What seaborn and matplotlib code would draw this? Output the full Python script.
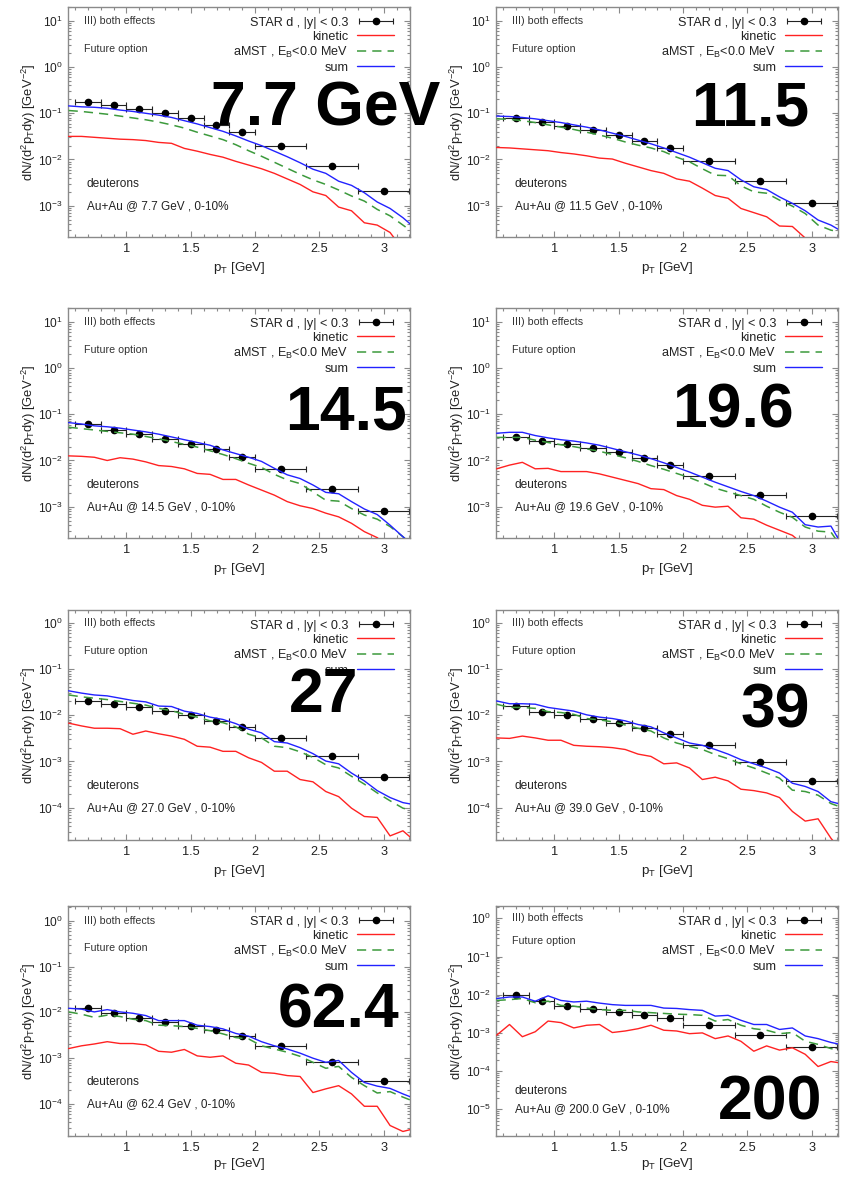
import numpy as np
import pandas as pd
import matplotlib
matplotlib.use("Agg")
import matplotlib.pyplot as plt
import seaborn as sns
from matplotlib.ticker import LogLocator, NullFormatter, MultipleLocator
from matplotlib.container import ErrorbarContainer
from matplotlib.legend_handler import HandlerErrorbar

sns.set_style("ticks")
plt.rcParams["font.family"] = ["Liberation Sans", "DejaVu Sans"]
plt.rcParams["mathtext.fontset"] = "custom"
plt.rcParams["mathtext.rm"] = "Liberation Sans"
plt.rcParams["mathtext.it"] = "Liberation Sans:italic"
plt.rcParams["mathtext.bf"] = "Liberation Sans:bold"

# ---------------- data ----------------
pt_model = [0.55, 0.65, 0.75, 0.85, 0.95, 1.05, 1.15, 1.25, 1.35, 1.45,
            1.55, 1.65, 1.75, 1.85, 1.95, 2.05, 2.15, 2.25, 2.35, 2.45,
            2.55, 2.65, 2.75, 2.85, 2.95, 3.05, 3.15, 3.25]
pt_star = [0.7, 0.9, 1.1, 1.3, 1.5, 1.7, 1.9, 2.2, 2.6, 3.0]
pt_star_lo = [0.6, 0.8, 1.0, 1.2, 1.4, 1.6, 1.8, 2.0, 2.4, 2.8]
pt_star_hi = [0.8, 1.0, 1.2, 1.4, 1.6, 1.8, 2.0, 2.4, 2.8, 3.2]

energies = ["7.7", "11.5", "14.5", "19.6", "27.0", "39.0", "62.4", "200.0"]
big_labels = ["7.7 GeV", "11.5", "14.5", "19.6", "27", "39", "62.4", "200"]

# STAR deuteron yields (linear)
star_7p7 = [0.178, 0.150, 0.124, 0.100, 0.078, 0.056, 0.039, 0.020, 0.0072, 0.0021]
star_11p5 = [0.078, 0.064, 0.054, 0.044, 0.034, 0.025, 0.018, 0.0093, 0.0035, 0.00115]
star_14p5 = [0.061, 0.046, 0.037, 0.029, 0.023, 0.0175, 0.0117, 0.0065, 0.0024, 0.00081]
star_19p6 = [0.032, 0.027, 0.023, 0.0187, 0.015, 0.0112, 0.0081, 0.0046, 0.0018, 0.00062]
star_27 = [0.0205, 0.0178, 0.0152, 0.0124, 0.0100, 0.0076, 0.0056, 0.0032, 0.0013, 0.00046]
star_39 = [0.0155, 0.0118, 0.0100, 0.0085, 0.0069, 0.0054, 0.0039, 0.00233, 0.00097, 0.00037]
star_62p4 = [0.0124, 0.0097, 0.0074, 0.0061, 0.0051, 0.0042, 0.0030, 0.00187, 0.00081, 0.00032]
star_200 = [0.0096, 0.0067, 0.0050, 0.0041, 0.0035, 0.0030, 0.00246, 0.00165, 0.00087, 0.00042]

# model curves as log10 values
sum_log_7p7 = [-0.84, -0.86, -0.87, -0.89, -0.93, -0.96, -1.00, -1.04, -1.09, -1.16, -1.23, -1.31, -1.39, -1.49,
               -1.60, -1.70, -1.82, -1.94, -2.07, -2.21, -2.30, -2.47, -2.56, -2.72, -2.92, -3.06, -3.26, -3.50]
amst_log_7p7 = [-0.94, -0.96, -0.99, -1.02, -1.06, -1.10, -1.14, -1.19, -1.25, -1.32, -1.41, -1.49, -1.57, -1.68,
                -1.81, -1.93, -2.06, -2.19, -2.32, -2.44, -2.54, -2.66, -2.79, -2.90, -3.08, -3.22, -3.42, -3.62]
kin_log_7p7 = [-1.50, -1.50, -1.52, -1.54, -1.56, -1.57, -1.59, -1.63, -1.65, -1.76, -1.82, -1.89, -1.95, -2.04,
               -2.12, -2.20, -2.30, -2.42, -2.54, -2.70, -2.78, -3.03, -3.11, -3.37, -3.42, -3.58, -3.95, -4.20]

sum_log_11p5 = [-1.06, -1.07, -1.09, -1.12, -1.16, -1.20, -1.25, -1.30, -1.36, -1.43, -1.50, -1.58, -1.66, -1.75,
                -1.85, -1.95, -2.07, -2.19, -2.24, -2.44, -2.59, -2.65, -2.81, -2.95, -3.11, -3.31, -3.42, -3.58]
amst_log_11p5 = [-1.12, -1.13, -1.16, -1.20, -1.25, -1.30, -1.35, -1.41, -1.47, -1.54, -1.62, -1.69, -1.75, -1.83,
                 -1.95, -2.05, -2.20, -2.34, -2.35, -2.57, -2.70, -2.73, -2.88, -3.01, -3.17, -3.42, -3.53, -3.58]
kin_log_11p5 = [-1.74, -1.75, -1.77, -1.79, -1.81, -1.85, -1.88, -1.92, -1.97, -1.99, -2.08, -2.16, -2.24, -2.30,
                -2.42, -2.47, -2.62, -2.78, -2.84, -3.06, -3.15, -3.24, -3.44, -3.45, -3.70, -3.95, -4.20, -4.40]

sum_log_14p5 = [-1.18, -1.21, -1.25, -1.27, -1.30, -1.34, -1.38, -1.43, -1.49, -1.55, -1.61, -1.67, -1.77, -1.85,
                -1.93, -2.02, -2.17, -2.31, -2.39, -2.53, -2.69, -2.72, -2.89, -3.05, -3.17, -3.40, -3.65, -3.90]
amst_log_14p5 = [-1.28, -1.31, -1.34, -1.37, -1.40, -1.43, -1.48, -1.53, -1.59, -1.65, -1.71, -1.79, -1.87, -1.96,
                 -2.06, -2.15, -2.30, -2.42, -2.50, -2.68, -2.86, -2.88, -3.04, -3.18, -3.27, -3.43, -3.65, -3.90]
kin_log_14p5 = [-1.90, -1.91, -1.93, -2.00, -1.94, -1.97, -2.03, -2.11, -2.13, -2.18, -2.28, -2.30, -2.41, -2.41,
                -2.53, -2.64, -2.75, -2.89, -2.98, -3.04, -3.14, -3.22, -3.36, -3.54, -3.67, -3.90, -4.10, -4.30]

sum_log_19p6 = [-1.41, -1.39, -1.39, -1.46, -1.51, -1.55, -1.58, -1.62, -1.67, -1.74, -1.81, -1.88, -1.96, -2.05,
                -2.15, -2.25, -2.36, -2.47, -2.57, -2.67, -2.76, -2.88, -3.01, -3.12, -3.39, -3.44, -3.42, -3.90]
amst_log_19p6 = [-1.50, -1.50, -1.50, -1.56, -1.61, -1.66, -1.70, -1.75, -1.80, -1.87, -1.94, -2.02, -2.11, -2.19,
                 -2.28, -2.37, -2.48, -2.60, -2.68, -2.76, -2.84, -2.99, -3.12, -3.23, -3.44, -3.53, -3.55, -3.95]
kin_log_19p6 = [-2.18, -2.10, -2.04, -2.18, -2.17, -2.24, -2.24, -2.24, -2.29, -2.36, -2.43, -2.50, -2.61, -2.63,
                -2.76, -2.84, -2.97, -3.01, -2.99, -3.24, -3.27, -3.40, -3.51, -3.62, -3.85, -4.00, -4.20, -4.40]

sum_log_27 = [-1.47, -1.52, -1.56, -1.58, -1.63, -1.68, -1.71, -1.80, -1.81, -1.91, -1.96, -2.04, -2.09, -2.18,
              -2.30, -2.38, -2.57, -2.60, -2.70, -2.83, -2.99, -3.05, -3.25, -3.42, -3.63, -3.78, -3.89, -3.94]
amst_log_27 = [-1.56, -1.60, -1.63, -1.66, -1.70, -1.74, -1.78, -1.85, -1.90, -1.98, -2.04, -2.12, -2.16, -2.25,
               -2.41, -2.49, -2.67, -2.70, -2.79, -2.91, -3.07, -3.14, -3.32, -3.49, -3.68, -3.85, -4.01, -4.08]
kin_log_27 = [-2.17, -2.23, -2.28, -2.28, -2.29, -2.41, -2.34, -2.40, -2.45, -2.52, -2.67, -2.69, -2.78, -2.78,
              -2.92, -3.02, -3.21, -3.21, -3.39, -3.44, -3.65, -3.76, -4.01, -4.19, -4.21, -4.61, -4.50, -4.74]

sum_log_39 = [-1.69, -1.75, -1.75, -1.76, -1.83, -1.87, -1.91, -1.99, -2.04, -2.07, -2.12, -2.20, -2.25, -2.38,
              -2.49, -2.60, -2.65, -2.74, -2.84, -2.96, -3.05, -3.14, -3.25, -3.47, -3.54, -3.65, -3.87, -3.94]
amst_log_39 = [-1.76, -1.83, -1.83, -1.85, -1.92, -1.94, -1.98, -2.07, -2.10, -2.14, -2.21, -2.28, -2.34, -2.49,
               -2.60, -2.67, -2.74, -2.85, -2.94, -3.05, -3.14, -3.25, -3.36, -3.62, -3.65, -3.73, -3.91, -4.01]
kin_log_39 = [-2.49, -2.50, -2.45, -2.49, -2.54, -2.54, -2.65, -2.67, -2.68, -2.70, -2.74, -2.84, -2.89, -3.05,
              -3.03, -3.14, -3.39, -3.34, -3.42, -3.60, -3.63, -3.68, -3.78, -4.08, -4.29, -4.24, -4.66, -5.00]

sum_log_62p4 = [-1.91, -1.93, -1.99, -1.94, -1.99, -2.02, -2.07, -2.18, -2.18, -2.18, -2.28, -2.31, -2.36, -2.46,
                -2.52, -2.64, -2.73, -2.80, -2.89, -3.00, -3.09, -3.05, -3.31, -3.53, -3.61, -3.66, -3.78, -3.89]
amst_log_62p4 = [-1.99, -2.04, -2.11, -2.06, -2.09, -2.15, -2.18, -2.28, -2.29, -2.31, -2.35, -2.40, -2.47, -2.55,
                 -2.58, -2.73, -2.80, -2.87, -2.96, -3.09, -3.22, -3.18, -3.42, -3.60, -3.76, -3.73, -3.85, -3.96]
kin_log_62p4 = [-2.79, -2.73, -2.69, -2.64, -2.68, -2.68, -2.71, -2.85, -2.87, -2.81, -2.95, -2.98, -2.95, -3.11,
                -3.15, -3.31, -3.33, -3.38, -3.40, -3.75, -3.67, -3.60, -3.78, -4.05, -4.05, -4.47, -4.60, -4.53]

sum_log_200 = [-2.10, -2.06, -2.06, -2.17, -2.03, -2.15, -2.19, -2.17, -2.22, -2.26, -2.28, -2.28, -2.28, -2.35,
               -2.36, -2.39, -2.41, -2.56, -2.54, -2.67, -2.78, -2.78, -2.91, -2.87, -3.08, -3.15, -3.25, -3.32]
amst_log_200 = [-2.15, -2.13, -2.10, -2.21, -2.17, -2.28, -2.30, -2.35, -2.39, -2.41, -2.41, -2.45, -2.47, -2.49,
                -2.51, -2.52, -2.54, -2.69, -2.65, -2.80, -2.89, -2.93, -3.02, -2.99, -3.22, -3.30, -3.41, -3.49]
kin_log_200 = [-3.06, -2.78, -3.10, -2.97, -2.69, -2.73, -2.87, -2.80, -2.78, -2.99, -2.95, -2.89, -2.80, -2.93,
               -2.95, -3.02, -3.00, -3.15, -3.08, -3.22, -3.48, -3.34, -3.45, -3.39, -3.56, -3.88, -3.75, -3.80]

star_all = [star_7p7, star_11p5, star_14p5, star_19p6, star_27, star_39, star_62p4, star_200]
sum_all = [sum_log_7p7, sum_log_11p5, sum_log_14p5, sum_log_19p6, sum_log_27, sum_log_39, sum_log_62p4, sum_log_200]
amst_all = [amst_log_7p7, amst_log_11p5, amst_log_14p5, amst_log_19p6, amst_log_27, amst_log_39, amst_log_62p4, amst_log_200]
kin_all = [kin_log_7p7, kin_log_11p5, kin_log_14p5, kin_log_19p6, kin_log_27, kin_log_39, kin_log_62p4, kin_log_200]

ylims = [(2.1e-4, 20), (2.1e-4, 20), (2.1e-4, 20), (2.1e-4, 20),
         (2e-5, 1.9), (2e-5, 1.9), (2e-5, 2.1), (2e-6, 2.1)]
text_top = [10, 10, 10, 10, 1, 1, 1, 1]
text_bot = [1e-3, 1e-3, 1e-3, 1e-3, 1e-4, 1e-4, 1e-4, 1e-5]

# big overlay labels: (right edge px, baseline px)
big_pos = [(440, 125), (809, 125), (407, 430), (794, 428),
           (358, 712), (810, 727), (400, 1028), (822, 1120)]

# ---------------- figure ----------------
W, H = 844, 1178
fig = plt.figure(figsize=(W / 100, H / 100), dpi=100)
fig.patch.set_facecolor("white")

col_left = [68, 496]
row_top = [7, 308, 610, 906]
ax_w, ax_h = 342, 230

RED = "#ff2222"
GREEN = "#3c9a3c"
BLUE = "#2222ff"
GRAY = "#8a8a8a"

pt_lo_err = [p - lo for p, lo in zip(pt_star, pt_star_lo)]
pt_hi_err = [hi - p for p, hi in zip(pt_star, pt_star_hi)]

for i in range(8):
    r, c = divmod(i, 2)
    left = col_left[c] / W
    bottom = 1 - (row_top[r] + ax_h) / H
    ax = fig.add_axes([left, bottom, ax_w / W, ax_h / H])
    ax.set_yscale("log")

    df = pd.DataFrame({
        "pt": pt_model,
        "kin": np.power(10.0, kin_all[i]),
        "amst": np.power(10.0, amst_all[i]),
        "sum": np.power(10.0, sum_all[i]),
    })

    eb = ax.errorbar(pt_star, star_all[i], xerr=[pt_lo_err, pt_hi_err], fmt="o",
                     color="black", ecolor="#222222", ms=4.5, capsize=2.2,
                     elinewidth=0.8, capthick=0.8, zorder=2)
    sns.lineplot(data=df, x="pt", y="kin", ax=ax, color=RED, lw=1.0,
                 sort=False, legend=False, zorder=3)
    l_kin = ax.lines[-1]
    sns.lineplot(data=df, x="pt", y="amst", ax=ax, color=GREEN, lw=1.1,
                 linestyle=(0, (6, 4)), sort=False, legend=False, zorder=3)
    l_amst = ax.lines[-1]
    sns.lineplot(data=df, x="pt", y="sum", ax=ax, color=BLUE, lw=1.0,
                 sort=False, legend=False, zorder=4)
    l_sum = ax.lines[-1]

    ax.set_xlim(0.545, 3.205)
    ax.set_ylim(*ylims[i])

    ax.set_xticks([1, 1.5, 2, 2.5, 3])
    ax.set_xticklabels(["1", "1.5", "2", "2.5", "3"])
    ax.xaxis.set_minor_locator(MultipleLocator(0.1))
    ax.yaxis.set_major_locator(LogLocator(base=10, numticks=20))
    ax.yaxis.set_minor_locator(LogLocator(base=10, subs=np.arange(2, 10) * 1.0, numticks=20))
    ax.yaxis.set_minor_formatter(NullFormatter())
    ax.tick_params(which="both", direction="in", top=True, right=True,
                   color=GRAY, labelcolor="#222222", width=0.8)
    ax.tick_params(axis="y", labelsize=8.6)
    ax.tick_params(axis="x", labelsize=9.2)
    ax.tick_params(which="major", length=4.5, pad=4)
    ax.tick_params(which="minor", length=2.3)
    for s in ax.spines.values():
        s.set_color(GRAY)
        s.set_linewidth(1.0)

    ax.set_xlabel(r"p$_{\rm T}$ [GeV]", fontsize=9.6, color="#222222",
                  labelpad=4 if r < 3 else 2)
    ax.set_ylabel(r"dN/(d$^{2}$p$_{\rm T}$dy) [GeV$^{-2}$]", fontsize=9.4,
                  color="#222222", labelpad=0)

    leg = ax.legend(
        handles=[eb, l_kin, l_amst, l_sum],
        labels=["STAR d , |y| < 0.3", "kinetic", r"aMST , E$_{\rm B}$<0.0 MeV", "sum"],
        loc="upper right", bbox_to_anchor=(0.953, 0.958), frameon=False,
        markerfirst=False, fontsize=9.1, handlelength=2.9, handletextpad=0.7,
        labelspacing=0.16, borderpad=0.0, borderaxespad=0.0,
        handler_map={ErrorbarContainer: HandlerErrorbar(xerr_size=1.35)})
    for t in leg.get_texts():
        t.set_color("#222222")

    ax.text(0.67, text_top[i], "III) both effects", fontsize=7.7, color="#333333",
            ha="left", va="center")
    ax.text(0.67, text_top[i] / 4.0, "Future option", fontsize=7.7, color="#333333",
            ha="left", va="center")
    ax.text(0.69, text_bot[i] * 3.0, "deuterons", fontsize=8.6, color="#222222",
            ha="left", va="center")
    ax.text(0.69, text_bot[i], f"Au+Au @ {energies[i]} GeV , 0-10%", fontsize=8.5,
            color="#222222", ha="left", va="center")

for lab, (px, py) in zip(big_labels, big_pos):
    fig.text(px / W, 1 - py / H, lab, ha="right", va="baseline", fontsize=45,
             fontweight="bold", color="black", zorder=10)

fig.savefig("out.png", dpi=100, facecolor="white")
